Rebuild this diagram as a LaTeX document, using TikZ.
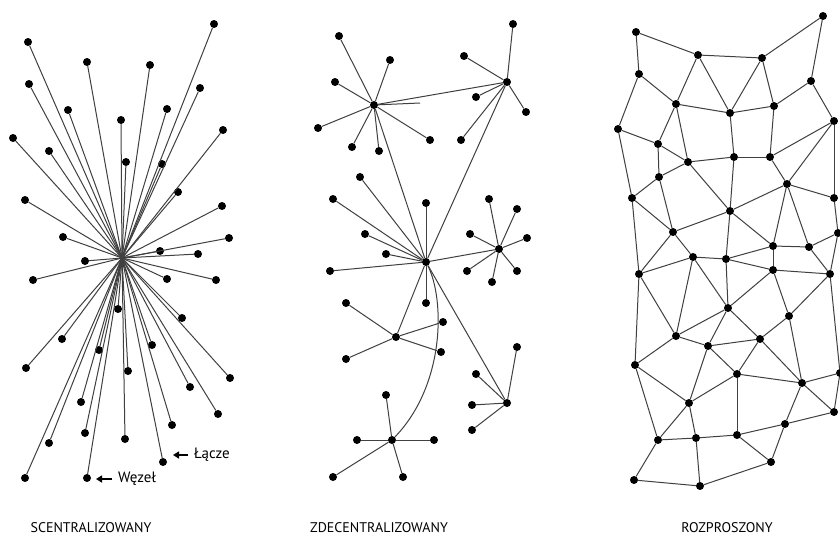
\documentclass[tikz,border=0pt]{standalone}
\usepackage{fontspec}
\setmainfont{PT Sans}
\usetikzlibrary{arrows.meta}
\begin{document}
\begin{tikzpicture}[x=1pt,y=-1pt,
        dot/.style={circle,fill=black,inner sep=0pt,minimum size=8pt},
        link/.style={line width=1pt,draw=black!75},
        title/.style={font=\fontsize{14}{16}\selectfont},
        note/.style={font=\fontsize{15}{17}\selectfont,anchor=west,inner ysep=0pt}]
    \useasboundingbox[fill=white] (0,0) rectangle (840,543);

    % scentralizowany
    \coordinate (lhub) at (122,258);
    \foreach \x/\y [count=\i] in {214/24,28/42,87/62,150/65,200/88,29/84,68/110,167/109,
            121/120,223/130,13/138,49/151,126/162,162/164,178/192,25/200,222/206,63/237,
            229/238,160/251,198/254,85/261,33/280,167/279,216/280,118/309,182/318,62/339,
            99/350,152/345,26/368,128/371,230/378,190/387,81/402,218/414,172/425,85/433,
            125/439,49/443,163/462,25/478,87/478}
        \node[dot] (l\i) at (\x,\y) {};
    \foreach \i in {1,...,43}
        \draw[link] (lhub) -- (l\i);

    \coordinate (lacze tip) at (173,455);
    \node[note,inner xsep=6pt] (lacze) at (188,455) {Łącze};
    \draw[line width=1.5pt,-{Triangle[length=6pt,width=7pt]}] (lacze.west) -- (lacze tip);
    \coordinate (wezel tip) at (96,479);
    \node[note,inner xsep=6pt] (wezel) at (112,479) {Węzeł};
    \draw[line width=1.5pt,-{Triangle[length=6pt,width=7pt]}] (wezel.west) -- (wezel tip);

    % zdecentralizowany
    \node[dot] (ma) at (374,105) {};
    \node[dot] (mb) at (507,82) {};
    \node[dot] (mc) at (426,262) {};
    \node[dot] (md) at (396,337) {};
    \node[dot] (me) at (392,440) {};
    \node[dot] (mf) at (507,403) {};
    \node[dot] (mg) at (499,249) {};
    \coordinate (mstub) at (420,103);
    \foreach \h/\x/\y [count=\i] in {a/339/36,a/390/60,a/335/82,a/318/128,a/352/147,
            a/379/151,a/430/140,b/513/24,b/464/56,b/476/97,b/526/112,b/461/140,
            c/360/177,c/333/199,c/426/203,c/365/234,c/386/254,c/330/271,c/426/303,
            d/346/303,d/346/359,d/443/322,d/441/352,
            e/386/395,e/357/440,e/434/440,e/333/477,e/403/477,
            f/517/347,f/476/374,f/472/405,f/472/430,
            g/489/199,g/517/209,g/470/234,g/527/238,g/467/271,g/517/271,g/492/282}
        {
        \node[dot] (mleaf\i) at (\x,\y) {};
        \draw[link] (m\h) -- (mleaf\i);
        }
    \draw[link] (ma) -- (mb);
    \draw[link] (ma) -- (mstub);
    \draw[link] (ma) -- (mc);
    \draw[link] (mb) -- (mc);
    \foreach \h in {d,f,g}
        \draw[link] (mc) -- (m\h);
    \draw[link] (mc) .. controls (445,300) and (445,385) .. (me);

    % rozproszony
    \foreach \x/\y [count=\i] in {636/32,698/55,762/58,823/16,639/74,811/81,676/104,
            730/113,774/106,618/129,834/121,658/144,734/157,770/157,688/162,659/177,
            787/184,632/198,834/198,730/211,673/232,773/246,809/247,838/233,693/257,
            726/259,639/274,773/270,830/274,728/308,789/316,676/336,760/339,708/346,
            635/365,737/374,802/383,840/373,689/403,834/412,785/424,658/440,696/438,
            737/435,771/462,634/480,700/486}
        \node[dot] (r\i) at (\x,\y) {};
    \foreach \a/\b in {1/2,1/5,2/3,3/4,4/6,2/7,2/8,3/8,3/9,5/7,5/10,8/9,7/8,9/6,6/11,
            7/12,7/15,10/12,10/18,8/13,9/14,13/14,12/15,12/16,15/13,14/17,14/11,11/17,
            11/19,15/20,13/20,16/15,16/18,16/21,18/21,17/20,17/19,17/22,17/23,20/21,
            20/22,20/26,21/25,21/27,19/24,22/23,23/24,25/26,26/22,26/28,22/28,28/29,
            23/29,29/24,27/18,27/25,27/32,25/32,25/30,26/30,28/30,28/31,29/31,29/38,
            30/32,30/34,30/33,31/33,31/37,32/34,32/35,27/35,34/33,34/36,33/36,33/37,
            36/37,37/38,37/40,37/41,35/39,35/42,34/39,36/39,36/44,39/42,39/43,42/43,
            43/44,44/41,44/45,41/45,41/40,42/46,46/47,43/47,47/45,38/40}
        \draw[link] (r\a) -- (r\b);

    \node[title] (scen) at (91,528) {SCENTRALIZOWANY};
    \node[title] (zdec) at (379,528) {ZDECENTRALIZOWANY};
    \node[title] (rozp) at (727,528) {ROZPROSZONY};
\end{tikzpicture}
\end{document}
